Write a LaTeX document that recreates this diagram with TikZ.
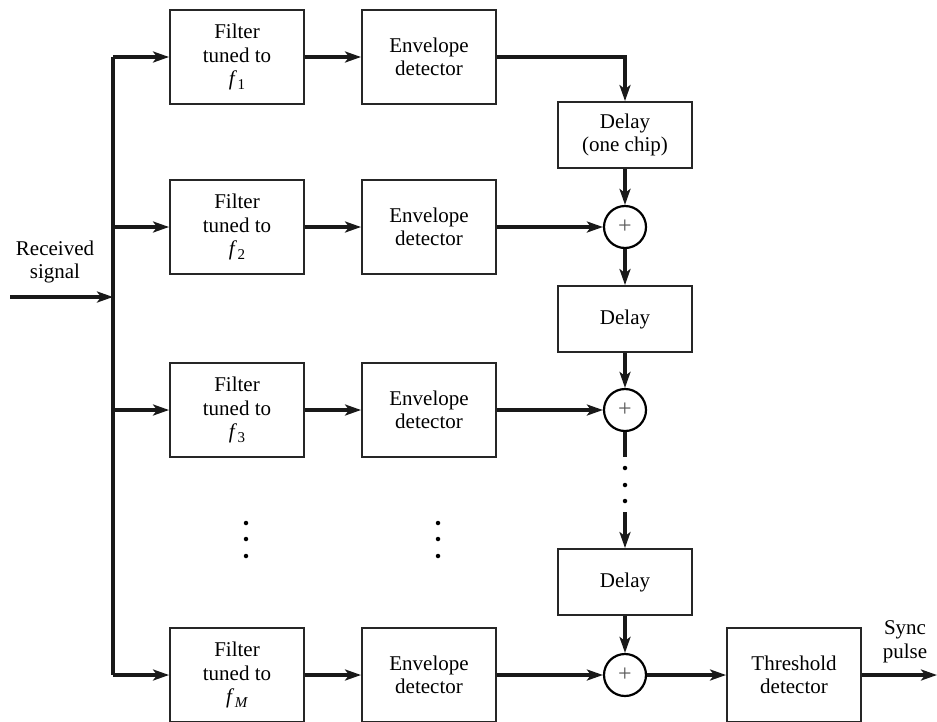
\documentclass[tikz,border=0pt]{standalone}
\usepackage{fontspec}
\setmainfont{Liberation Serif}
\usetikzlibrary{arrows.meta}
\newcommand{\fsub}[1]{\textit{f}\kern0.5pt\raisebox{-4pt}{\fontsize{15}{15}\selectfont #1}}
\tikzset{
  blk/.style={draw=black!85, line width=1.9pt, minimum width=134pt, minimum height=94pt, inner sep=0pt, align=center, font=\rmfamily\fontsize{21}{23.5}\selectfont},
  sumnode/.style={draw=black, line width=2.2pt, circle, minimum size=42pt, inner sep=0pt, font=\rmfamily\fontsize{24}{24}\selectfont\color{black!65}},
  conn/.style={line width=3.2pt, draw=black!90, -{Stealth[length=16pt,width=11pt,inset=4pt]}},
  plain/.style={line width=3.2pt, draw=black!90},
  lbl/.style={align=center, font=\rmfamily\fontsize{21}{23.5}\selectfont},
  dot/.style={circle, fill=black, inner sep=0pt, minimum size=4.5pt}
}
\begin{document}
\begin{tikzpicture}[x=1pt,y=-1pt]
\useasboundingbox (0,0) rectangle (937,721);
% filters
\node[blk] (f1) at (237,57) {Filter\\tuned to\\\fsub{1}};
\node[blk] (f2) at (237,227) {Filter\\tuned to\\\fsub{2}};
\node[blk] (f3) at (237,410) {Filter\\tuned to\\\fsub{3}};
\node[blk] (fM) at (237,675) {Filter\\tuned to\\\fsub{\textit{M}}};
% envelope detectors
\node[blk] (e1) at (429,57) {Envelope\\detector};
\node[blk] (e2) at (429,227) {Envelope\\detector};
\node[blk] (e3) at (429,410) {Envelope\\detector};
\node[blk] (eM) at (429,675) {Envelope\\detector};
% delays
\node[blk, minimum height=66pt] (d1) at (625,135) {Delay\\(one chip)};
\node[blk, minimum height=66pt] (d2) at (625,319) {Delay};
\node[blk, minimum height=66pt] (d3) at (625,582) {Delay};
% sums
\node[sumnode] (s1) at (625,227) {+};
\node[sumnode] (s2) at (625,410) {+};
\node[sumnode] (s3) at (625,675) {+};
% threshold
\node[blk] (th) at (794,675) {Threshold\\detector};
% labels
\node[lbl] (rx) at (55,262) {Received\\signal};
\node[lbl] (sy) at (905,642) {Sync\\pulse};
% coordinates
\coordinate (in) at (10,297);
\coordinate (bt) at (113,57);
\coordinate (bb) at (113,675);
\coordinate (bi) at (113,297);
\coordinate (b2) at (113,227);
\coordinate (b3) at (113,410);
\coordinate (c1) at (625,57);
\coordinate (g1) at (625,457);
\coordinate (g2) at (625,512);
\coordinate (out) at (937,675);
% bus
\draw[plain] (bt) -- (bb);
\draw[conn] (in) -- (bi);
\draw[conn] (bt) -- (f1.west);
\draw[conn] (b2) -- (f2.west);
\draw[conn] (b3) -- (f3.west);
\draw[conn] (bb) -- (fM.west);
% filter -> env
\draw[conn] (f1.east) -- (e1.west);
\draw[conn] (f2.east) -- (e2.west);
\draw[conn] (f3.east) -- (e3.west);
\draw[conn] (fM.east) -- (eM.west);
% chain
\draw[conn] (e1.east) -- (c1) -- (d1.north);
\draw[conn] (d1.south) -- (s1.north);
\draw[conn] (e2.east) -- (s1.west);
\draw[conn] (s1.south) -- (d2.north);
\draw[conn] (d2.south) -- (s2.north);
\draw[conn] (e3.east) -- (s2.west);
\draw[plain] (s2.south) -- (g1);
\draw[conn] (g2) -- (d3.north);
\draw[conn] (d3.south) -- (s3.north);
\draw[conn] (eM.east) -- (s3.west);
\draw[conn] (s3.east) -- (th.west);
\draw[conn] (th.east) -- (out);
% dots
\node[dot] (v1) at (625,468) {};
\node[dot] (v2) at (625,485) {};
\node[dot] (v3) at (625,501) {};
\node[dot] (fd1) at (246,523) {};
\node[dot] (fd2) at (246,539) {};
\node[dot] (fd3) at (246,556) {};
\node[dot] (ed1) at (438,523) {};
\node[dot] (ed2) at (438,539) {};
\node[dot] (ed3) at (438,556) {};
\end{tikzpicture}
\end{document}
